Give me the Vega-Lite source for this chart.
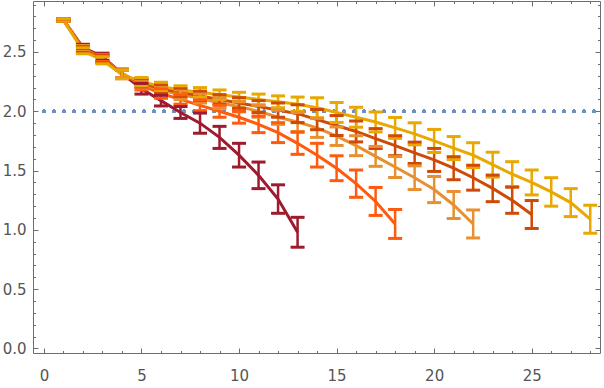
{
 "$schema": "https://vega.github.io/schema/vega-lite/v6.json",
 "width": 567, "height": 352,
 "autosize": {"type": "none"},
 "padding": {"left": 33, "top": 1, "right": 4, "bottom": 35},
 "background": "white",
 "config": {
  "view": {"stroke": "#6e6e6e", "strokeWidth": 1},
  "axis": {"grid": false, "domain": false, "title": null, "labelFont": "DejaVu Sans", "labelFontSize": 15, "labelColor": "#555555", "tickColor": "#6e6e6e", "tickWidth": 1}
 },
 "data": {"values": [
  {"s":"A","x":1,"y":2.77,"lo":2.76,"hi":2.78},
  {"s":"A","x":2,"y":2.54,"lo":2.515,"hi":2.565},
  {"s":"A","x":3,"y":2.46,"lo":2.43,"hi":2.49},
  {"s":"A","x":4,"y":2.32,"lo":2.285,"hi":2.355},
  {"s":"A","x":5,"y":2.19,"lo":2.145,"hi":2.235},
  {"s":"A","x":6,"y":2.09,"lo":2.045,"hi":2.135},
  {"s":"A","x":7,"y":1.99,"lo":1.94,"hi":2.04},
  {"s":"A","x":8,"y":1.90,"lo":1.815,"hi":1.985},
  {"s":"A","x":9,"y":1.78,"lo":1.687,"hi":1.873},
  {"s":"A","x":10,"y":1.63,"lo":1.53,"hi":1.73},
  {"s":"A","x":11,"y":1.46,"lo":1.348,"hi":1.572},
  {"s":"A","x":12,"y":1.26,"lo":1.14,"hi":1.38},
  {"s":"A","x":13,"y":0.98,"lo":0.854,"hi":1.106},
  {"s":"B","x":1,"y":2.77,"lo":2.76,"hi":2.78},
  {"s":"B","x":2,"y":2.53,"lo":2.505,"hi":2.555},
  {"s":"B","x":3,"y":2.45,"lo":2.42,"hi":2.48},
  {"s":"B","x":4,"y":2.32,"lo":2.285,"hi":2.355},
  {"s":"B","x":5,"y":2.22,"lo":2.18,"hi":2.26},
  {"s":"B","x":6,"y":2.15,"lo":2.11,"hi":2.19},
  {"s":"B","x":7,"y":2.10,"lo":2.06,"hi":2.14},
  {"s":"B","x":8,"y":2.05,"lo":2.005,"hi":2.095},
  {"s":"B","x":9,"y":2.00,"lo":1.95,"hi":2.05},
  {"s":"B","x":10,"y":1.95,"lo":1.90,"hi":2.00},
  {"s":"B","x":11,"y":1.89,"lo":1.82,"hi":1.96},
  {"s":"B","x":12,"y":1.82,"lo":1.736,"hi":1.904},
  {"s":"B","x":13,"y":1.73,"lo":1.637,"hi":1.823},
  {"s":"B","x":14,"y":1.63,"lo":1.53,"hi":1.73},
  {"s":"B","x":15,"y":1.52,"lo":1.415,"hi":1.625},
  {"s":"B","x":16,"y":1.39,"lo":1.275,"hi":1.505},
  {"s":"B","x":17,"y":1.24,"lo":1.122,"hi":1.358},
  {"s":"B","x":18,"y":1.05,"lo":0.928,"hi":1.172},
  {"s":"C","x":1,"y":2.77,"lo":2.76,"hi":2.78},
  {"s":"C","x":2,"y":2.53,"lo":2.505,"hi":2.555},
  {"s":"C","x":3,"y":2.44,"lo":2.41,"hi":2.47},
  {"s":"C","x":4,"y":2.32,"lo":2.285,"hi":2.355},
  {"s":"C","x":5,"y":2.23,"lo":2.195,"hi":2.265},
  {"s":"C","x":6,"y":2.18,"lo":2.145,"hi":2.215},
  {"s":"C","x":7,"y":2.14,"lo":2.10,"hi":2.18},
  {"s":"C","x":8,"y":2.11,"lo":2.07,"hi":2.15},
  {"s":"C","x":9,"y":2.07,"lo":2.025,"hi":2.115},
  {"s":"C","x":10,"y":2.04,"lo":1.995,"hi":2.085},
  {"s":"C","x":11,"y":2.00,"lo":1.95,"hi":2.05},
  {"s":"C","x":12,"y":1.95,"lo":1.89,"hi":2.01},
  {"s":"C","x":13,"y":1.91,"lo":1.83,"hi":1.99},
  {"s":"C","x":14,"y":1.86,"lo":1.78,"hi":1.94},
  {"s":"C","x":15,"y":1.79,"lo":1.712,"hi":1.868},
  {"s":"C","x":16,"y":1.71,"lo":1.626,"hi":1.794},
  {"s":"C","x":17,"y":1.62,"lo":1.536,"hi":1.704},
  {"s":"C","x":18,"y":1.53,"lo":1.442,"hi":1.618},
  {"s":"C","x":19,"y":1.44,"lo":1.34,"hi":1.54},
  {"s":"C","x":20,"y":1.34,"lo":1.23,"hi":1.45},
  {"s":"C","x":21,"y":1.21,"lo":1.096,"hi":1.324},
  {"s":"C","x":22,"y":1.05,"lo":0.932,"hi":1.168},
  {"s":"D","x":1,"y":2.77,"lo":2.76,"hi":2.78},
  {"s":"D","x":2,"y":2.52,"lo":2.495,"hi":2.545},
  {"s":"D","x":3,"y":2.44,"lo":2.41,"hi":2.47},
  {"s":"D","x":4,"y":2.31,"lo":2.275,"hi":2.345},
  {"s":"D","x":5,"y":2.24,"lo":2.205,"hi":2.275},
  {"s":"D","x":6,"y":2.19,"lo":2.155,"hi":2.225},
  {"s":"D","x":7,"y":2.16,"lo":2.125,"hi":2.195},
  {"s":"D","x":8,"y":2.13,"lo":2.09,"hi":2.17},
  {"s":"D","x":9,"y":2.10,"lo":2.06,"hi":2.14},
  {"s":"D","x":10,"y":2.07,"lo":2.025,"hi":2.115},
  {"s":"D","x":11,"y":2.04,"lo":1.99,"hi":2.09},
  {"s":"D","x":12,"y":2.01,"lo":1.95,"hi":2.07},
  {"s":"D","x":13,"y":1.98,"lo":1.905,"hi":2.055},
  {"s":"D","x":14,"y":1.93,"lo":1.845,"hi":2.015},
  {"s":"D","x":15,"y":1.88,"lo":1.796,"hi":1.964},
  {"s":"D","x":16,"y":1.83,"lo":1.742,"hi":1.918},
  {"s":"D","x":17,"y":1.77,"lo":1.686,"hi":1.854},
  {"s":"D","x":18,"y":1.71,"lo":1.626,"hi":1.794},
  {"s":"D","x":19,"y":1.65,"lo":1.56,"hi":1.74},
  {"s":"D","x":20,"y":1.59,"lo":1.493,"hi":1.687},
  {"s":"D","x":21,"y":1.52,"lo":1.423,"hi":1.617},
  {"s":"D","x":22,"y":1.44,"lo":1.335,"hi":1.545},
  {"s":"D","x":23,"y":1.35,"lo":1.238,"hi":1.462},
  {"s":"D","x":24,"y":1.25,"lo":1.14,"hi":1.36},
  {"s":"D","x":25,"y":1.13,"lo":1.012,"hi":1.248},
  {"s":"E","x":1,"y":2.77,"lo":2.76,"hi":2.78},
  {"s":"E","x":2,"y":2.51,"lo":2.485,"hi":2.535},
  {"s":"E","x":3,"y":2.43,"lo":2.40,"hi":2.46},
  {"s":"E","x":4,"y":2.31,"lo":2.275,"hi":2.345},
  {"s":"E","x":5,"y":2.25,"lo":2.215,"hi":2.285},
  {"s":"E","x":6,"y":2.21,"lo":2.175,"hi":2.245},
  {"s":"E","x":7,"y":2.18,"lo":2.145,"hi":2.215},
  {"s":"E","x":8,"y":2.16,"lo":2.12,"hi":2.20},
  {"s":"E","x":9,"y":2.14,"lo":2.10,"hi":2.18},
  {"s":"E","x":10,"y":2.12,"lo":2.08,"hi":2.16},
  {"s":"E","x":11,"y":2.10,"lo":2.055,"hi":2.145},
  {"s":"E","x":12,"y":2.08,"lo":2.03,"hi":2.13},
  {"s":"E","x":13,"y":2.06,"lo":2.00,"hi":2.12},
  {"s":"E","x":14,"y":2.03,"lo":1.946,"hi":2.114},
  {"s":"E","x":15,"y":1.99,"lo":1.906,"hi":2.074},
  {"s":"E","x":16,"y":1.95,"lo":1.866,"hi":2.034},
  {"s":"E","x":17,"y":1.91,"lo":1.826,"hi":1.994},
  {"s":"E","x":18,"y":1.86,"lo":1.772,"hi":1.948},
  {"s":"E","x":19,"y":1.81,"lo":1.717,"hi":1.903},
  {"s":"E","x":20,"y":1.75,"lo":1.653,"hi":1.847},
  {"s":"E","x":21,"y":1.69,"lo":1.593,"hi":1.787},
  {"s":"E","x":22,"y":1.63,"lo":1.525,"hi":1.735},
  {"s":"E","x":23,"y":1.55,"lo":1.445,"hi":1.655},
  {"s":"E","x":24,"y":1.47,"lo":1.365,"hi":1.575},
  {"s":"E","x":25,"y":1.40,"lo":1.295,"hi":1.505},
  {"s":"E","x":26,"y":1.32,"lo":1.20,"hi":1.44},
  {"s":"E","x":27,"y":1.23,"lo":1.112,"hi":1.348},
  {"s":"E","x":28,"y":1.09,"lo":0.972,"hi":1.208}
 ]},
 "resolve": {"axis": {"x": "independent", "y": "independent"}},
 "layer": [
  {
   "mark": {"type": "rule", "color": "#7090c4", "strokeWidth": 3, "strokeDash": [0.5, 9.5], "strokeCap": "round"},
   "encoding": {
    "x": {"datum": 0, "type": "quantitative", "axis": null, "scale": {"domain": [-0.56, 28.5], "nice": false, "zero": false}},
    "x2": {"datum": 28.5},
    "y": {"datum": 2, "type": "quantitative", "axis": null, "scale": {"domain": [-0.038, 2.93], "nice": false, "zero": false}}
   }
  },
  {
   "mark": {"type": "line", "strokeWidth": 3, "opacity": 1},
   "encoding": {
    "x": {"field": "x", "type": "quantitative", "scale": {"domain": [-0.56, 28.5], "nice": false, "zero": false},
          "axis": {"orient": "bottom", "values": [0, 5, 10, 15, 20, 25], "format": "d", "ticks": false, "labelPadding": 15}},
    "y": {"field": "y", "type": "quantitative", "scale": {"domain": [-0.038, 2.93], "nice": false, "zero": false},
          "axis": {"orient": "left", "values": [0, 0.5, 1, 1.5, 2, 2.5], "format": ".1f", "ticks": false, "labelPadding": 7}},
    "color": {"field": "s", "type": "nominal", "legend": null,
              "scale": {"domain": ["A", "B", "C", "D", "E"], "range": ["#9e1a2e", "#ff5a0d", "#e8902f", "#cf4a06", "#e9a800"]}},
    "order": {"field": "x", "type": "quantitative"}
   }
  },
  {
   "mark": {"type": "rule", "strokeWidth": 2.5, "opacity": 1},
   "encoding": {
    "x": {"field": "x", "type": "quantitative", "axis": null},
    "y": {"field": "lo", "type": "quantitative", "axis": null},
    "y2": {"field": "hi"},
    "color": {"field": "s", "type": "nominal", "legend": null}
   }
  },
  {
   "mark": {"type": "tick", "orient": "horizontal", "size": 14, "thickness": 3, "opacity": 1},
   "encoding": {
    "x": {"field": "x", "type": "quantitative", "axis": null},
    "y": {"field": "lo", "type": "quantitative", "axis": null},
    "color": {"field": "s", "type": "nominal", "legend": null}
   }
  },
  {
   "mark": {"type": "tick", "orient": "horizontal", "size": 14, "thickness": 3, "opacity": 1},
   "encoding": {
    "x": {"field": "x", "type": "quantitative", "axis": null},
    "y": {"field": "hi", "type": "quantitative", "axis": null},
    "color": {"field": "s", "type": "nominal", "legend": null}
   }
  },
  {
   "mark": {"type": "point", "opacity": 0},
   "encoding": {
    "x": {"field": "x", "type": "quantitative", "axis": {"orient": "bottom", "values": [0, 5, 10, 15, 20, 25], "labels": false, "tickSize": -5}},
    "y": {"field": "y", "type": "quantitative", "axis": {"orient": "left", "values": [0, 0.5, 1, 1.5, 2, 2.5], "labels": false, "tickSize": -5}}
   }
  },
  {
   "mark": {"type": "point", "opacity": 0},
   "encoding": {
    "x": {"field": "x", "type": "quantitative", "axis": {"orient": "bottom", "values": [0,1,2,3,4,5,6,7,8,9,10,11,12,13,14,15,16,17,18,19,20,21,22,23,24,25,26,27,28], "labels": false, "tickSize": -2.5}},
    "y": {"field": "y", "type": "quantitative", "axis": {"orient": "left", "values": [0,0.1,0.2,0.3,0.4,0.5,0.6,0.7,0.8,0.9,1,1.1,1.2,1.3,1.4,1.5,1.6,1.7,1.8,1.9,2,2.1,2.2,2.3,2.4,2.5,2.6,2.7,2.8,2.9], "labels": false, "tickSize": -2.5}}
   }
  },
  {
   "mark": {"type": "point", "opacity": 0},
   "encoding": {
    "x": {"field": "x", "type": "quantitative", "axis": {"orient": "top", "values": [0, 5, 10, 15, 20, 25], "labels": false, "tickSize": -5}},
    "y": {"field": "y", "type": "quantitative", "axis": {"orient": "right", "values": [0, 0.5, 1, 1.5, 2, 2.5], "labels": false, "tickSize": -5}}
   }
  },
  {
   "mark": {"type": "point", "opacity": 0},
   "encoding": {
    "x": {"field": "x", "type": "quantitative", "axis": {"orient": "top", "values": [0,1,2,3,4,5,6,7,8,9,10,11,12,13,14,15,16,17,18,19,20,21,22,23,24,25,26,27,28], "labels": false, "tickSize": -2.5}},
    "y": {"field": "y", "type": "quantitative", "axis": {"orient": "right", "values": [0,0.1,0.2,0.3,0.4,0.5,0.6,0.7,0.8,0.9,1,1.1,1.2,1.3,1.4,1.5,1.6,1.7,1.8,1.9,2,2.1,2.2,2.3,2.4,2.5,2.6,2.7,2.8,2.9], "labels": false, "tickSize": -2.5}}
   }
  }
 ]
}
